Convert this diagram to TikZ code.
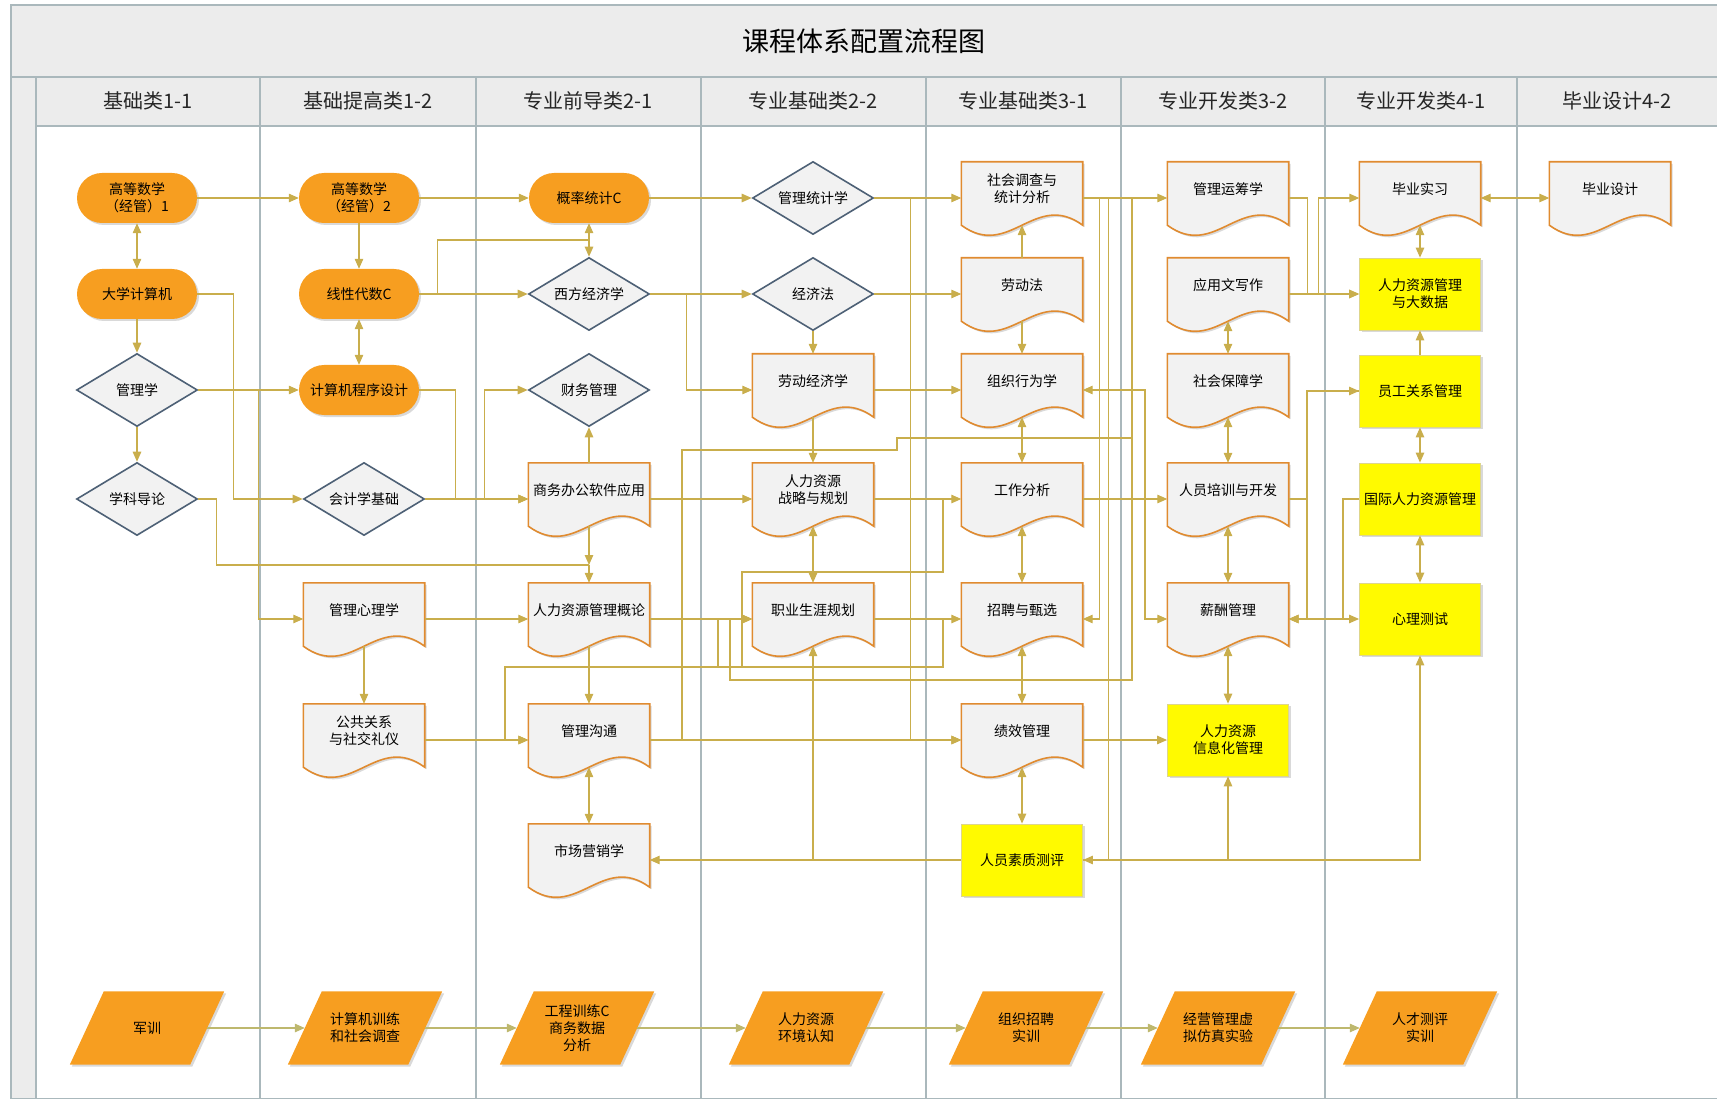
\documentclass[tikz,border=0pt]{standalone}
\usepackage{fontspec}
\setmainfont{Noto Sans CJK SC}
\usetikzlibrary{arrows.meta,shapes.geometric,shadows}
\definecolor{orangefill}{RGB}{247,158,32}
\definecolor{linec}{RGB}{201,174,76}
\definecolor{lineb}{RGB}{190,184,110}
\definecolor{docedge}{RGB}{224,139,48}
\definecolor{greyfill}{RGB}{242,242,242}
\definecolor{diaedge}{RGB}{78,97,118}
\definecolor{yelfill}{RGB}{255,250,0}
\definecolor{yeledge}{RGB}{222,214,140}
\definecolor{lanec}{RGB}{170,184,188}
\definecolor{headfill}{RGB}{236,236,236}
\pgfdeclarelayer{bg}
\pgfsetlayers{bg,main}

\begin{document}
\begin{tikzpicture}[
    x=1pt, y=-1pt,
    every node/.style={font=\fontsize{14}{17}\selectfont, align=center},
    softshadow/.style={drop shadow={shadow xshift=2pt, shadow yshift=-2pt, opacity=0.25, fill=black!60}},
    stad/.style={rectangle, rounded corners=25pt, fill=orangefill, minimum width=120pt, minimum height=50pt, softshadow},
    dia/.style={diamond, aspect=1.66, draw=diaedge, line width=1.6pt, fill=greyfill, minimum width=121pt, minimum height=73pt, inner sep=0pt},
    doclbl/.style={yshift=9pt},
    doc/.style={rectangle, minimum width=121pt, minimum height=72pt, inner sep=0pt, label={[doclbl]center:{#1}}},
    docline/.style={draw=docedge, line width=1.6pt, fill=greyfill, softshadow},
    ybox/.style={rectangle, fill=yelfill, draw=yeledge, line width=0.8pt, minimum width=121pt, minimum height=72pt, softshadow},
    para/.style={rectangle, minimum width=120pt, minimum height=73pt, inner sep=0pt},
    paraline/.style={fill=orangefill, softshadow},
    arr/.style={-{Triangle[length=10pt,width=8.5pt]}, draw=linec, line width=1.2pt},
    darr/.style={{Triangle[length=10pt,width=8.5pt]}-{Triangle[length=10pt,width=8.5pt]}, draw=linec, line width=1.2pt},
    ln/.style={draw=linec, line width=1.2pt},
    lane/.style={draw=lanec, line width=1.5pt},
    head/.style={font=\fontsize{20}{24}\selectfont, text=black!85}
]
\useasboundingbox (0,0) rectangle (1717,1099);

% Title and lane headers
\node[font=\fontsize{27}{32}\selectfont] (title) at (864,41) {课程体系配置流程图};
\node[head] (h1) at (148,101) {基础类1-1};
\node[head] (h2) at (368,101) {基础提高类1-2};
\node[head] (h3) at (588,101) {专业前导类2-1};
\node[head] (h4) at (813,101) {专业基础类2-2};
\node[head] (h5) at (1023,101) {专业基础类3-1};
\node[head] (h6) at (1223,101) {专业开发类3-2};
\node[head] (h7) at (1421,101) {专业开发类4-1};
\node[head] (h8) at (1617,101) {毕业设计4-2};

% Lane 1
\node[stad] (m1) at (137,198) {高等数学\\（经管）1};
\node[stad] (jsj) at (137,294) {大学计算机};
\node[dia] (glx) at (137,390) {管理学};
\node[dia] (xkdl) at (137,499) {学科导论};

% Lane 2
\node[stad] (m2) at (359,198) {高等数学\\（经管）2};
\node[stad] (xd) at (359,294) {线性代数C};
\node[stad] (cx) at (359,390) {计算机程序设计};
\node[dia] (kj) at (364,499) {会计学基础};
\node[doc={管理心理学}] (glxl) at (364,619) {};
\node[doc={公共关系\\与社交礼仪}] (ggy) at (364,740) {};

% Lane 3
\node[stad] (gl) at (589,198) {概率统计C};
\node[dia] (xfjj) at (589,294) {西方经济学};
\node[dia] (cwgl) at (589,390) {财务管理};
\node[doc={商务办公软件应用}] (swbg) at (589,499) {};
\node[doc={人力资源管理概论}] (rlgl) at (589,619) {};
\node[doc={管理沟通}] (gtgl) at (589,740) {};
\node[doc={市场营销学}] (scyx) at (589,860) {};

% Lane 4
\node[dia] (gltj) at (813,198) {管理统计学};
\node[dia] (jjf) at (813,294) {经济法};
\node[doc={劳动经济学}] (ldjj) at (813,390) {};
\node[doc={人力资源\\战略与规划}] (zlgh) at (813,499) {};
\node[doc={职业生涯规划}] (zysy) at (813,619) {};

% Lane 5
\node[doc={社会调查与\\统计分析}] (shdc) at (1022,198) {};
\node[doc={劳动法}] (ldf) at (1022,294) {};
\node[doc={组织行为学}] (zzxw) at (1022,390) {};
\node[doc={工作分析}] (gzfx) at (1022,499) {};
\node[doc={招聘与甄选}] (zpyx) at (1022,619) {};
\node[doc={绩效管理}] (jxgl) at (1022,740) {};
\node[ybox] (rysz) at (1022,860) {人员素质测评};

% Lane 6
\node[doc={管理运筹学}] (glyc) at (1228,198) {};
\node[doc={应用文写作}] (yywx) at (1228,294) {};
\node[doc={社会保障学}] (shbz) at (1228,390) {};
\node[doc={人员培训与开发}] (rypx) at (1228,499) {};
\node[doc={薪酬管理}] (xcgl) at (1228,619) {};
\node[ybox] (xxh) at (1228,740) {人力资源\\信息化管理};

% Lane 7 and 8
\node[doc={毕业实习}] (bysx) at (1420,198) {};
\node[ybox] (dsj) at (1420,294) {人力资源管理\\与大数据};
\node[ybox] (ygg) at (1420,391) {员工关系管理};
\node[ybox] (gjrl) at (1420,499) {国际人力资源管理};
\node[ybox] (xlcs) at (1420,619) {心理测试};
\node[doc={毕业设计}] (bysj) at (1610,198) {};

% Practice row
\node[para] (jx) at (147,1028) {军训};
\node[para] (jsjxl) at (365,1028) {计算机训练\\和社会调查};
\node[para] (gcxl) at (577,1028) {工程训练C\\商务数据\\分析};
\node[para] (hjrz) at (806,1028) {人力资源\\环境认知};
\node[para] (zpsx) at (1026,1028) {组织招聘\\实训};
\node[para] (xnfz) at (1218,1028) {经营管理虚\\拟仿真实验};
\node[para] (rcsx) at (1420,1028) {人才测评\\实训};

% Junctions
\coordinate (jA) at (589,565);
\coordinate (jB) at (589,240);
\coordinate (jC) at (1132,438);
\coordinate (jD) at (718,667);
\coordinate (jE) at (742,667);

% Background: frame, lanes, document and parallelogram outlines
\begin{pgfonlayer}{bg}
\fill[headfill] (11,5) rectangle (1720,126);
\fill[headfill] (11,77) rectangle (36,1099);
\draw[lane] (11,5) rectangle (1720,1099);
\draw[lane] (11,77) -- (1720,77);
\draw[lane] (36,126) -- (1720,126);
\foreach \x in {36,260,476,701,926,1121,1325,1517} {
    \draw[lane] (\x,77) -- (\x,1099);
}
\foreach \n in {glxl,ggy,swbg,rlgl,gtgl,scyx,ldjj,zlgh,zysy,shdc,ldf,zzxw,gzfx,zpyx,jxgl,glyc,yywx,shbz,rypx,xcgl,bysx,bysj} {
    \draw[docline] (\n.north west) -- (\n.north east) -- ([yshift=9pt]\n.south east)
        .. controls +(-48,-35) and +(48,35) .. ([yshift=9pt]\n.south west) -- cycle;
}
\foreach \n in {jx,jsjxl,gcxl,hjrz,zpsx,xnfz,rcsx} {
    \fill[paraline] ([xshift=-17pt]\n.south west) -- ([xshift=-17pt]\n.south east)
        -- ([xshift=17pt]\n.north east) -- ([xshift=17pt]\n.north west) -- cycle;
}
\end{pgfonlayer}

% Lane 1-2 links
\draw[darr] (m1) -- (jsj);
\draw[arr] (jsj) -- (glx);
\draw[arr] (glx) -- (xkdl);
\draw[arr] (m1) -- (m2);
\draw[arr] (m2) -- (xd);
\draw[darr] (xd) -- (cx);
\draw[arr] (jsj.east) -- ++(36,0) |- (kj.west);
\draw[arr] (glx) -- (cx);
\draw[arr] (glx.east) -- ++(60,0) |- (glxl.west);
\draw[ln] (xkdl.east) -- ++(18,0) |- (jA);
\draw[arr] (jA) -- (rlgl.north);
\draw[arr] ([yshift=9pt]glxl.south) -- (ggy.north);
\draw[arr] (glxl) -- (rlgl);
\draw[arr] (ggy) -- (gtgl);
\draw[arr] (m2) -- (gl);
\draw[arr] (xd) -- (xfjj);
\draw[ln] (xd.east) -- ++(18,0) |- (jB);
\draw[arr] (cx.east) -- ++(36,0) |- (swbg.west);
\draw[arr] (kj) -- (swbg);
\draw[arr] (kj.east) -- ++(59,0) |- (cwgl.west);

% Lane 3 links
\draw[darr] (gl) -- (xfjj);
\draw[arr] (swbg) -- (cwgl);
\draw[arr] ([yshift=9pt]swbg.south) -- (jA);
\draw[arr] ([yshift=9pt]rlgl.south) -- (gtgl.north);
\draw[darr] ([yshift=9pt]gtgl.south) -- (scyx.north);
\draw[arr] (gl) -- (gltj);
\draw[arr] (xfjj) -- (jjf);
\draw[arr] (xfjj.east) -- ++(36,0) |- (ldjj.west);
\draw[arr] (swbg) -- (zlgh);
\draw[arr] (rlgl) -- (zysy);
\draw[arr] (gtgl) -- (jxgl);
\draw[arr] (rlgl.east) -- (718,619) -- (jD) -- (505,667) |- (gtgl.west);
\draw[ln] (zysy.east) -- (943,619) -- (943,667) -- (jD);
\draw[ln] (zlgh.east) -| (943,572) -- (742,572) -- (jE);
\draw[ln] (gtgl.east) -- (682,740) -- (682,450) -- (897,450) -- (897,438) -- (jC);
\draw[arr] (rysz) -- (scyx);
\draw[arr] (rysz.west) -| ([yshift=9pt]zysy.south);

% Lane 4 links
\draw[arr] (jjf) -- (ldjj);
\draw[arr] ([yshift=9pt]ldjj.south) -- (zlgh.north);
\draw[darr] ([yshift=9pt]zlgh.south) -- (zysy.north);
\draw[arr] (gltj) -- (shdc);
\draw[arr] (gltj.east) -- ++(36.5,0) |- (jxgl.west);
\draw[arr] (jjf) -- (ldf);
\draw[arr] (ldjj) -- (zzxw);
\draw[arr] (zlgh) -- (gzfx);
\draw[arr] (zysy) -- (zpyx);

% Lane 5 links
\draw[arr] (ldf.north) -- ([yshift=9pt]shdc.south);
\draw[arr] ([yshift=9pt]ldf.south) -- (zzxw.north);
\draw[darr] ([yshift=9pt]zzxw.south) -- (gzfx.north);
\draw[darr] ([yshift=9pt]gzfx.south) -- (zpyx.north);
\draw[darr] ([yshift=9pt]zpyx.south) -- (jxgl.north);
\draw[darr] ([yshift=9pt]jxgl.south) -- (rysz.north);
\draw[arr] (shdc) -- (glyc);
\draw[arr] (shdc.east) -- ++(16.5,0) |- (zpyx.east);
\draw[arr] (shdc.east) -- ++(25.5,0) |- (rysz.east);
\draw[arr] (shdc.east) -- (1132,198) -- (1132,680) -- (730,680) -- (730,619) -- (zysy.west);
\draw[darr] (zzxw.east) -- (1145,390) -- (1145,619) -- (xcgl.west);
\draw[arr] (gzfx) -- (rypx);
\draw[arr] (jxgl) -- (xxh);
\draw[arr] (rysz.east) -| (xlcs.south);
\draw[arr] (rysz.east) -| (xxh.south);

% Lane 6 links
\draw[darr] ([yshift=9pt]yywx.south) -- (shbz.north);
\draw[darr] ([yshift=9pt]shbz.south) -- (rypx.north);
\draw[darr] ([yshift=9pt]rypx.south) -- (xcgl.north);
\draw[darr] ([yshift=9pt]xcgl.south) -- (xxh.north);
\draw[arr] (glyc.east) -- ++(18.5,0) |- (dsj.west);
\draw[arr] (yywx) -- (dsj);
\draw[arr] (yywx.east) -- ++(29.5,0) |- (bysx.west);
\draw[arr] (rypx.east) -- ++(18.5,0) |- (ygg.west);
\draw[arr] (ygg.west) -- (1307,391) |- (xcgl.east);
\draw[arr] (gjrl.west) -- (1343,499) |- (xcgl.east);
\draw[arr] (xcgl) -- (xlcs);

% Lane 7 links
\draw[darr] ([yshift=9pt]bysx.south) -- (dsj.north);
\draw[arr] (ygg) -- (dsj);
\draw[darr] (ygg) -- (gjrl);
\draw[darr] (gjrl) -- (xlcs);
\draw[darr] (bysx) -- (bysj);

% Practice chain
\foreach \a/\b in {jx/jsjxl,jsjxl/gcxl,gcxl/hjrz,hjrz/zpsx,zpsx/xnfz,xnfz/rcsx} {
    \draw[arr, draw=lineb] (\a) -- (\b);
}

\end{tikzpicture}
\end{document}
